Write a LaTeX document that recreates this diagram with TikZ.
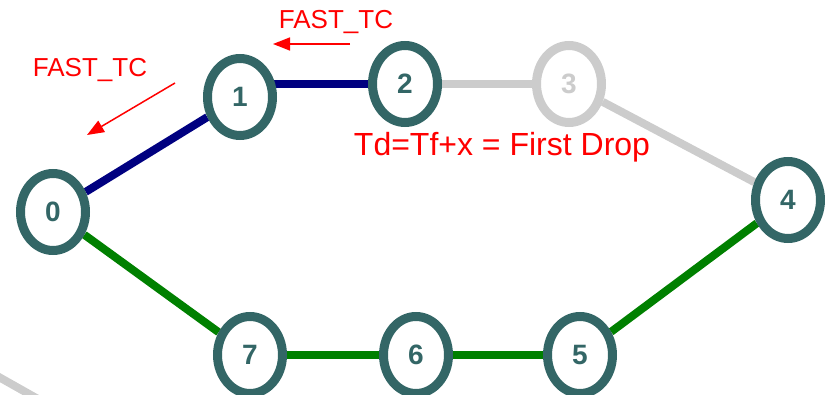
\documentclass[tikz,border=0pt]{standalone}
\usepackage{fontspec}
\setmainfont{Liberation Sans}
\usetikzlibrary{shapes.geometric,arrows.meta}
\definecolor{nodeteal}{RGB}{51,102,102}
\definecolor{lgray}{RGB}{204,204,204}
\definecolor{navyline}{RGB}{0,0,128}
\definecolor{greenline}{RGB}{0,128,0}
\pgfdeclarelayer{bg}
\pgfsetlayers{bg,main}
\begin{document}
\begin{tikzpicture}[x=1pt,y=-1pt,
  vtx/.style={ellipse, draw=nodeteal, line width=9pt, fill=white, minimum width=65pt, minimum height=77pt, inner sep=0pt, text=nodeteal, font=\fontsize{28}{28}\selectfont\bfseries},
  ghost/.style={vtx, draw=lgray, text=lgray},
  link/.style={line width=8pt},
  lbl/.style={text=red, inner sep=0pt, anchor=base},
  redarrow/.style={red, line width=1.5pt, -{Triangle[length=17pt,width=13pt]}}]
\useasboundingbox (0,0) rectangle (825,395);
\node[vtx] (n0) at (53,212) {0};
\node[vtx] (n1) at (240,97) {1};
\node[vtx] (n2) at (405,84) {2};
\node[ghost] (n3) at (569,84) {3};
\node[vtx] (n4) at (788,200) {4};
\node[vtx] (n5) at (580,355) {5};
\node[vtx] (n6) at (416,355) {6};
\node[vtx] (n7) at (250,355) {7};
\begin{pgfonlayer}{bg}
\draw[link, navyline] (n0) -- (n1);
\draw[link, navyline] (n2.center) -- (n2.center -| n1.center);
\draw[link, lgray] (n2) -- (n3);
\draw[link, lgray] (n3) -- (n4);
\draw[link, greenline] (n4) -- (n5);
\draw[link, greenline] (n5) -- (n6);
\draw[link, greenline] (n6) -- (n7);
\draw[link, greenline] (n7) -- (n0);
\coordinate (g1) at (-10,372);
\coordinate (g2) at (45,403);
\draw[link, lgray] (g1) -- (g2);
\end{pgfonlayer}
\node[lbl, font=\fontsize{26}{30}\selectfont] (t1) at (336,29) {FAST\_TC};
\node[lbl, font=\fontsize{26}{30}\selectfont] (t2) at (90,77) {FAST\_TC};
\node[lbl, font=\fontsize{32}{36}\selectfont] (t3) at (502,156) {Td=Tf+x = First Drop};
\coordinate (a1s) at (350,44);
\coordinate (a1e) at (273,44);
\draw[redarrow] (a1s) -- (a1e);
\coordinate (a2s) at (175,83);
\coordinate (a2e) at (87,135);
\draw[redarrow] (a2s) -- (a2e);
\end{tikzpicture}
\end{document}
